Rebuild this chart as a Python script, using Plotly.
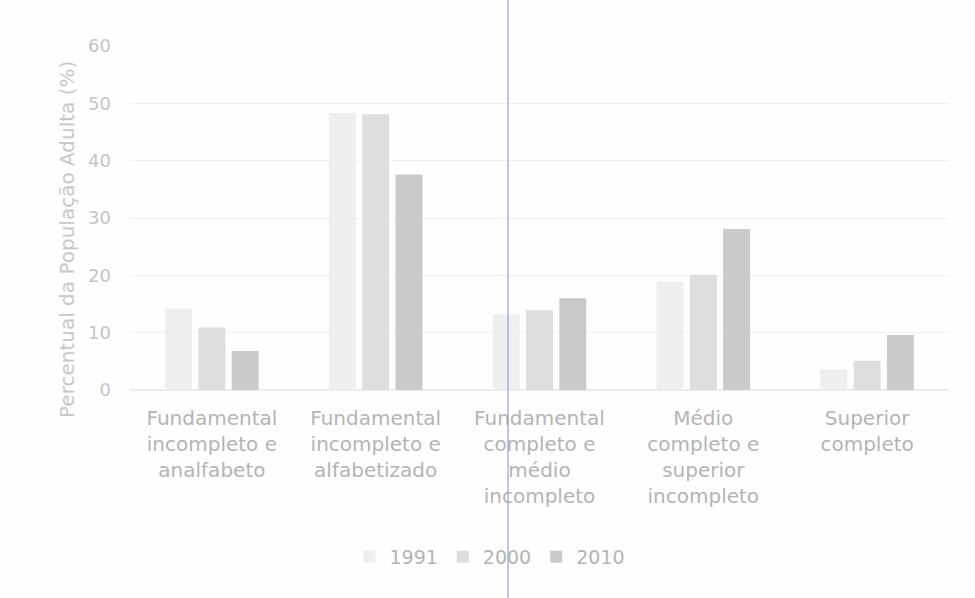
import plotly.graph_objects as go

categories = [
    "Fundamental<br>incompleto e<br>analfabeto",
    "Fundamental<br>incompleto e<br>alfabetizado",
    "Fundamental<br>completo e<br>médio<br>incompleto",
    "Médio<br>completo e<br>superior<br>incompleto",
    "Superior<br>completo",
]
years = ["1991", "2000", "2010"]
v1991 = [14.2, 48.3, 13.2, 18.9, 3.6]
v2000 = [10.9, 48.1, 13.9, 20.1, 5.1]
v2010 = [6.8, 37.6, 16.0, 28.1, 9.6]
colors = ["#eef0f0", "#dedede", "#cacaca"]

W, H = 975, 598
ml, mr, mt, mb = 130, 26, 46, 208
pw, ph = W - ml - mr, H - mt - mb

fig = go.Figure()
for name, vals, c in zip(years, [v1991, v2000, v2010], colors):
    fig.add_trace(go.Bar(x=categories, y=vals, name=name, marker=dict(color=c, line=dict(width=0))))

font_family = "DejaVu Sans"
label_col = "#b4b4b4"

fig.update_layout(
    width=W, height=H,
    margin=dict(l=ml, r=mr, t=mt, b=mb, autoexpand=False),
    paper_bgcolor="#fefefe", plot_bgcolor="#fefefe",
    barmode="group", bargap=0.39, bargroupgap=0.19,
    font=dict(family=font_family, color=label_col, size=19),
    showlegend=True,
    legend=dict(orientation="h", x=(490 - ml) / pw, xanchor="center",
                y=-(557 - (H - mb)) / ph, yanchor="middle",
                font=dict(size=19, color=label_col), itemwidth=30, traceorder="normal",
                bgcolor="rgba(0,0,0,0)"),
    xaxis=dict(showgrid=False, zeroline=False, showline=False, ticks="", automargin=False,
               tickfont=dict(size=20, color=label_col), ticklabelstandoff=14),
    yaxis=dict(range=[0, 60], dtick=10, showgrid=True, gridcolor="#f1f1f1", gridwidth=1,
               zeroline=True, zerolinecolor="#ececec", showline=False, ticks="", automargin=False,
               tickfont=dict(size=18, color="#c4c4c4"), ticklabelstandoff=18),
    annotations=[dict(text="Percentual da População Adulta (%)", textangle=-90,
                      xref="paper", yref="paper",
                      x=(67 - ml) / pw, y=(H - mb - 240) / ph,
                      xanchor="center", yanchor="middle", showarrow=False,
                      font=dict(size=20, color="#c8c8c8"))],
    shapes=[dict(type="line", xref="paper", yref="paper",
                 x0=(508 - ml) / pw, x1=(508 - ml) / pw,
                 y0=-mb / ph - 0.1, y1=1 + mt / ph + 0.1,
                 line=dict(color="#7f90c8", width=1))],
)

fig.write_html("out.html", config={"displayModeBar": False},
               post_script="document.body.style.margin='0';document.body.style.background='#fefefe';")
